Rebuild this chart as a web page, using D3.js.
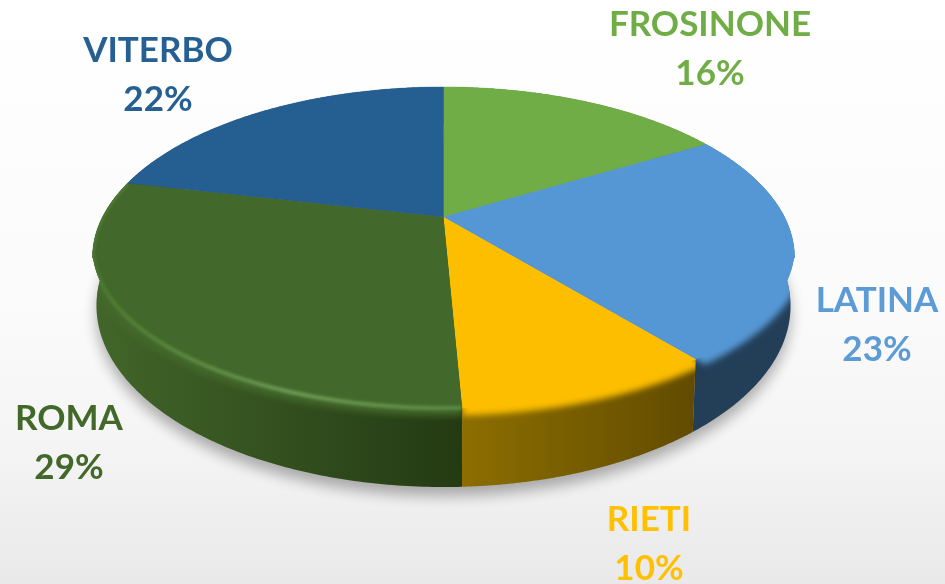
<!DOCTYPE html>
<html><head><meta charset="utf-8">
<script src="https://cdn.jsdelivr.net/npm/d3@7"></script>
<style>html,body{margin:0;padding:0;background:#fff}svg{display:block}</style>
</head><body><svg id="c" width="945" height="584"></svg>
<script>
const categories = ["FROSINONE","LATINA","RIETI","ROMA","VITERBO"];
const shares = [15.9,23.4,10,30,20.7];
const percentLabels = ["16%","23%","10%","29%","22%"];
const faceColors = ["#70ad47","#5596d4","#fdbe00","#43682b","#255e91"];
const textColors = ["#70ad47","#5b9bd5","#ffc000","#43682b","#255e91"];
const wallStart = ["#44692b","#233f58","#8c6e00","#42662a","#16385a"];
const wallEnd   = ["#44692b","#233f58","#624b00","#243a13","#16385a"];
const rimColors = [null,null,null,"#6d9c55",null];
const labelX = [710,877,649,69,158];
const labelY = [36,312,531,430,62];

const W=945,H=584,cx=443.5,tilt=-0.19;
const svg=d3.select("#c");
const defs=svg.append("defs");
const blur=(id,s)=>defs.append("filter").attr("id",id).attr("x","-20%").attr("y","-20%").attr("width","140%").attr("height","140%").append("feGaussianBlur").attr("stdDeviation",s);
blur("b05",0.45);blur("b1",1.5);blur("b3",3);blur("b6",7);

const bg=defs.append("linearGradient").attr("id","bg").attr("x1",0).attr("x2",0).attr("y1",0).attr("y2",1);
[[0,"#ffffff"],[0.5,"#fbfbfb"],[0.75,"#f5f5f5"],[1,"#e9e9e9"]].forEach(s=>bg.append("stop").attr("offset",s[0]).attr("stop-color",s[1]));
svg.append("rect").attr("width",W).attr("height",H).attr("fill","url(#bg)");

// perspective disc projections: v is toward the viewer, u to the right.
// The far half of the top rim is a slightly deeper curve than the near half.
const shoulderY=258, shoulderLift=10, rimHalfWidth=351;
const topProj=(u,v)=>{
 const w=1+tilt*v, x=cx+344.6*u/w; let y=(113.5*v+217)/w;
 if(y<shoulderY){
  const dx=(x-cx)/rimHalfWidth;
  y=Math.min(shoulderY,y+shoulderLift*(1-Math.sqrt(Math.max(0,1-dx*dx))));
 }
 return [x,y];
};
const baseProj=(u,v)=>{const w=1+tilt*v;return [cx+340.7*u/w,(122.9*v+271.6)/w];};
const pt=(proj,a,r)=>proj(r*Math.sin(a),-r*Math.cos(a));
const samples=(a0,a1)=>d3.range(0,161).map(i=>a0+(a1-a0)*i/160);
const line=d3.line();
const arcs=d3.pie().sort(null).value(d=>d)(shares);

const wedge=(a,r)=>line([topProj(0,0),...samples(a.startAngle,a.endAngle).map(t=>pt(topProj,t,r))])+"Z";
const wall=a=>{const s=samples(a.startAngle,a.endAngle);return line([...s.map(t=>pt(topProj,t,1)),...s.slice().reverse().map(t=>pt(baseProj,t,1))])+"Z";};

// ground shadow
svg.append("path")
 .attr("d",line(samples(0,2*Math.PI).map(t=>{const p=pt(baseProj,t,1.0);return [p[0],p[1]+9];}))+"Z")
 .attr("fill","#000").attr("opacity",0.3).attr("filter","url(#b6)");

// walls, shaded across their width
categories.forEach((c,i)=>{
 const g=defs.append("linearGradient").attr("id","w"+i);
 g.append("stop").attr("offset",0).attr("stop-color",wallStart[i]);
 g.append("stop").attr("offset",1).attr("stop-color",wallEnd[i]);
});
[0,4,1,3,2].forEach(i=>{
 svg.append("path").attr("d",wall(arcs[i])).attr("fill",`url(#w${i})`);
});

// top faces
arcs.forEach((a,i)=>{
 svg.append("path").attr("d",wedge(a,1)).attr("fill",faceColors[i]).attr("stroke",faceColors[i]).attr("stroke-width",0.4);
});

// soft bevel on the viewer-facing rim
arcs.forEach((a,i)=>{
 if(i===0||i===4) return;
 const cp=defs.append("clipPath").attr("id","cp"+i);
 cp.append("path").attr("d",wedge(a,1));
 cp.append("path").attr("d",wall(a));
 const g=svg.append("g").attr("clip-path",`url(#cp${i})`);
 g.append("path").attr("d",wedge(a,1.032)).attr("fill",faceColors[i]).attr("filter","url(#b3)");
 g.append("path").attr("d",wedge(a,0.985)).attr("fill",faceColors[i]);
 if(rimColors[i]){
  const s=samples(a.startAngle,a.endAngle);
  const rg=defs.append("linearGradient").attr("id","rim"+i);
  rg.append("stop").attr("offset",0).attr("stop-color","#4c7a30");
  rg.append("stop").attr("offset",0.55).attr("stop-color",rimColors[i]);
  rg.append("stop").attr("offset",1).attr("stop-color","#5b8a42");
  g.append("path").attr("d",line(s.map(t=>pt(topProj,t,1.0))))
   .attr("fill","none").attr("stroke",`url(#rim${i})`).attr("stroke-width",4).attr("filter","url(#b1)");
 }
});

// labels
const tg=svg.append("g").attr("filter","url(#b05)");
categories.forEach((c,i)=>{
 const t=tg.append("text").attr("text-anchor","middle").attr("fill",textColors[i])
  .attr("font-family","Lato, 'Open Sans', sans-serif").attr("font-weight",700).attr("font-size",35);
 t.append("tspan").attr("x",labelX[i]).attr("y",labelY[i]).text(c);
 t.append("tspan").attr("x",labelX[i]).attr("y",labelY[i]+49).text(percentLabels[i]);
});
</script></body></html>
